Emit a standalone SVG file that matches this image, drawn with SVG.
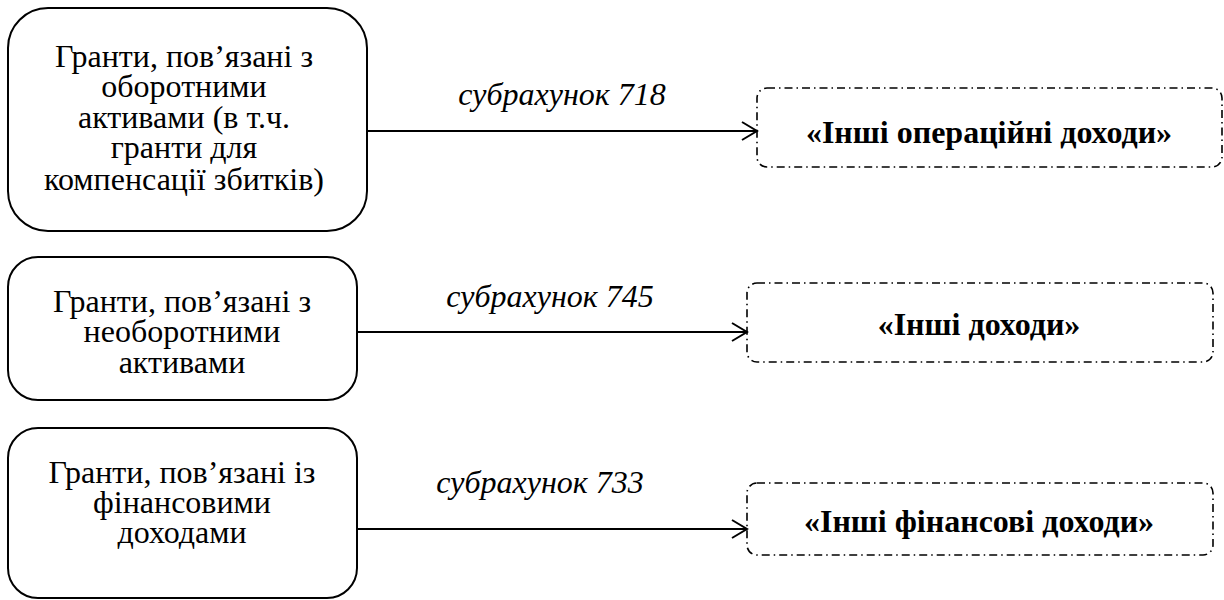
<svg xmlns="http://www.w3.org/2000/svg" width="1224" height="600" viewBox="0 0 1224 600">
<style>
.src{fill:#fff;stroke:#000;stroke-width:2}
.dst{fill:#fff;stroke:#000;stroke-width:1.6;stroke-dasharray:8 4 1.5 4}
.c{stroke:#000;stroke-width:2;fill:none}
</style>
<defs>
<marker id="arr" markerWidth="20" markerHeight="20" refX="16" refY="10" orient="auto" markerUnits="userSpaceOnUse">
<path d="M1,1 L16,10 L1,19" fill="none" stroke="#000" stroke-width="2"/>
</marker>
</defs>
<g font-family="Liberation Serif, DejaVu Serif, serif" fill="#000" text-anchor="middle" font-size="32">
<g id="src1"><rect class="src" x="8" y="8" width="359" height="223" rx="40"/>
<text x="184" y="67">Гранти, пов’язані з</text>
<text x="184" y="97">оборотними</text>
<text x="184" y="128">активами (в т.ч.</text>
<text x="184" y="158">гранти для</text>
<text x="184" y="190">компенсації збитків)</text></g>
<g id="src2"><rect class="src" x="8" y="257" width="349" height="143" rx="30"/>
<text x="182" y="312">Гранти, пов’язані з</text>
<text x="182" y="342">необоротними</text>
<text x="182" y="373">активами</text></g>
<g id="src3"><rect class="src" x="8" y="428" width="349" height="170" rx="30"/>
<text x="182" y="483">Гранти, пов’язані із</text>
<text x="182" y="513">фінансовими</text>
<text x="182" y="543">доходами</text></g>
<g id="dst1" font-weight="bold"><rect class="dst" x="757" y="88" width="465" height="79" rx="10"/>
<text x="989" y="143">«Інші операційні доходи»</text></g>
<g id="dst2" font-weight="bold"><rect class="dst" x="747" y="283" width="466" height="79" rx="10"/>
<text x="979" y="335">«Інші доходи»</text></g>
<g id="dst3" font-weight="bold"><rect class="dst" x="747" y="483" width="466" height="72" rx="10"/>
<text x="979" y="532">«Інші фінансові доходи»</text></g>
<g id="connectors">
<line class="c" x1="367" y1="131" x2="757" y2="131" marker-end="url(#arr)"/>
<line class="c" x1="357" y1="332" x2="747" y2="332" marker-end="url(#arr)"/>
<line class="c" x1="357" y1="529" x2="747" y2="529" marker-end="url(#arr)"/>
<g font-style="italic">
<text x="562" y="105">субрахунок 718</text>
<text x="550" y="307">субрахунок 745</text>
<text x="540" y="493">субрахунок 733</text>
</g>
</g>
</g>
</svg>
